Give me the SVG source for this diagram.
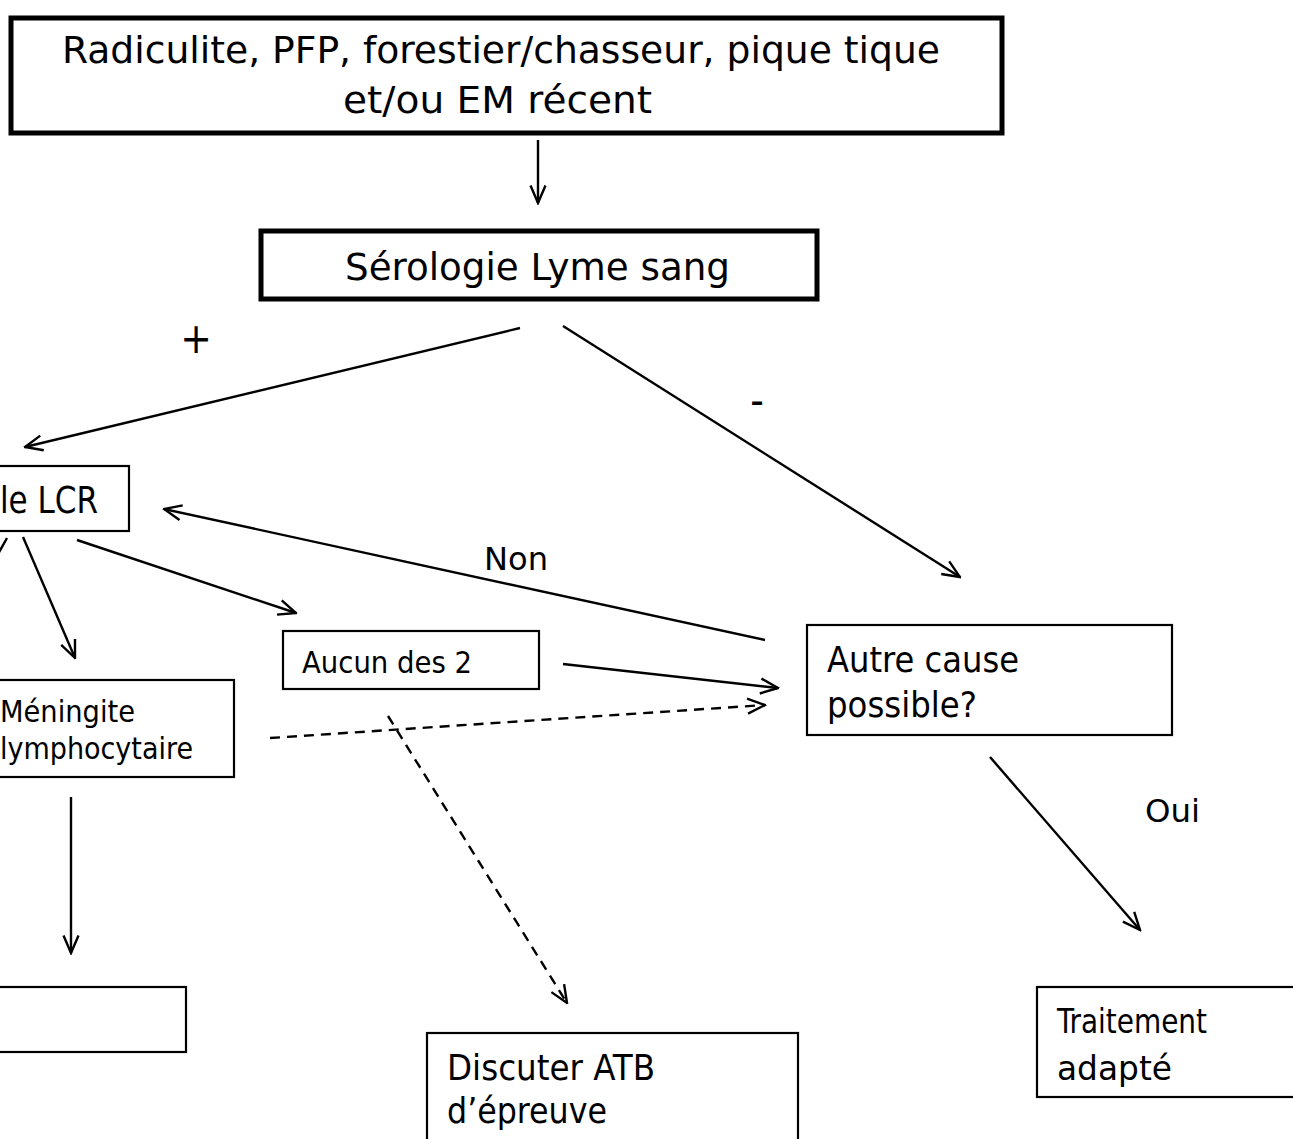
<svg xmlns="http://www.w3.org/2000/svg" width="1293" height="1139" viewBox="0 0 1293 1139">
<style>
text{font-family:"DejaVu Sans Condensed","DejaVu Sans",Tahoma,sans-serif;fill:#000}
.box{fill:#fff;stroke:#000;stroke-width:2.2}
.thick{fill:#fff;stroke:#000;stroke-width:5}
.ln{stroke:#000;stroke-width:2.4;fill:none;marker-end:url(#ah)}
.dash{stroke-dasharray:10,7}
</style>
<defs>
<marker id="ah" viewBox="0 0 20 18" refX="18.5" refY="9" markerWidth="20" markerHeight="18" markerUnits="userSpaceOnUse" orient="auto">
<path d="M1,1.5 L18.5,9 L1,16.5" fill="none" stroke="#000" stroke-width="2.4"/>
</marker>
</defs>
<rect width="1293" height="1139" fill="#fff"/>
<g id="connectors">
<line class="ln" x1="538" y1="140" x2="538" y2="203"/>
<line class="ln" x1="520" y1="328" x2="25" y2="447"/>
<line class="ln" x1="563" y1="326" x2="960" y2="577"/>
<line class="ln" x1="765" y1="640" x2="164" y2="509"/>
<line stroke="#000" stroke-width="2.4" x1="7" y1="538" x2="-12" y2="572"/>
<line class="ln" x1="23" y1="537" x2="75" y2="658"/>
<line class="ln" x1="77" y1="540" x2="296" y2="613"/>
<line class="ln" x1="563" y1="664" x2="778" y2="688"/>
<line class="ln dash" x1="270" y1="738" x2="765" y2="705"/>
<line class="ln dash" x1="388" y1="716" x2="567" y2="1003"/>
<line class="ln" x1="71" y1="797" x2="71" y2="953"/>
<line class="ln" x1="990" y1="757" x2="1140" y2="930"/>
<text x="196" y="353" font-size="42" text-anchor="middle">+</text>
<text x="757" y="415" font-size="42" text-anchor="middle">-</text>
<text x="484" y="570" font-size="32" textLength="64" lengthAdjust="spacingAndGlyphs">Non</text>
<text x="1145" y="822" font-size="32" textLength="55" lengthAdjust="spacingAndGlyphs">Oui</text>
</g>
<g id="n-top">
<rect class="thick" x="11" y="18" width="991" height="115"/>
<text x="62" y="63" font-size="38" textLength="878" lengthAdjust="spacingAndGlyphs">Radiculite, PFP, forestier/chasseur, pique tique</text>
<text x="343" y="113" font-size="38" textLength="309" lengthAdjust="spacingAndGlyphs">et/ou EM récent</text>
</g>
<g id="n-serologie">
<rect class="thick" x="261" y="231" width="556" height="68"/>
<text x="345" y="280" font-size="37" textLength="385" lengthAdjust="spacingAndGlyphs">Sérologie Lyme sang</text>
</g>
<g id="n-lcr">
<rect class="box" x="-10" y="466" width="139" height="65"/>
<text x="0" y="513" font-size="38" textLength="98" lengthAdjust="spacingAndGlyphs">le LCR</text>
</g>
<g id="n-meningite">
<rect class="box" x="-10" y="680" width="244" height="97"/>
<text x="0" y="722" font-size="30" textLength="135" lengthAdjust="spacingAndGlyphs">Méningite</text>
<text x="0" y="759" font-size="30" textLength="193" lengthAdjust="spacingAndGlyphs">lymphocytaire</text>
</g>
<g id="n-aucun">
<rect class="box" x="283" y="631" width="256" height="58"/>
<text x="302" y="673" font-size="30" textLength="170" lengthAdjust="spacingAndGlyphs">Aucun des 2</text>
</g>
<g id="n-autre">
<rect class="box" x="807" y="625" width="365" height="110"/>
<text x="827" y="672" font-size="35" textLength="192" lengthAdjust="spacingAndGlyphs">Autre cause</text>
<text x="827" y="717" font-size="35" textLength="150" lengthAdjust="spacingAndGlyphs">possible?</text>
</g>
<g id="n-bottomleft">
<rect class="box" x="-10" y="987" width="196" height="65"/>
</g>
<g id="n-discuter">
<rect class="box" x="427" y="1033" width="371" height="120"/>
<text x="447" y="1080" font-size="35" textLength="208" lengthAdjust="spacingAndGlyphs">Discuter ATB</text>
<text x="447" y="1123" font-size="35" textLength="160" lengthAdjust="spacingAndGlyphs">d’épreuve</text>
</g>
<g id="n-traitement">
<rect class="box" x="1037" y="987" width="270" height="110"/>
<text x="1057" y="1033" font-size="34" textLength="150" lengthAdjust="spacingAndGlyphs">Traitement</text>
<text x="1057" y="1080" font-size="34" textLength="115" lengthAdjust="spacingAndGlyphs">adapté</text>
</g>
</svg>
